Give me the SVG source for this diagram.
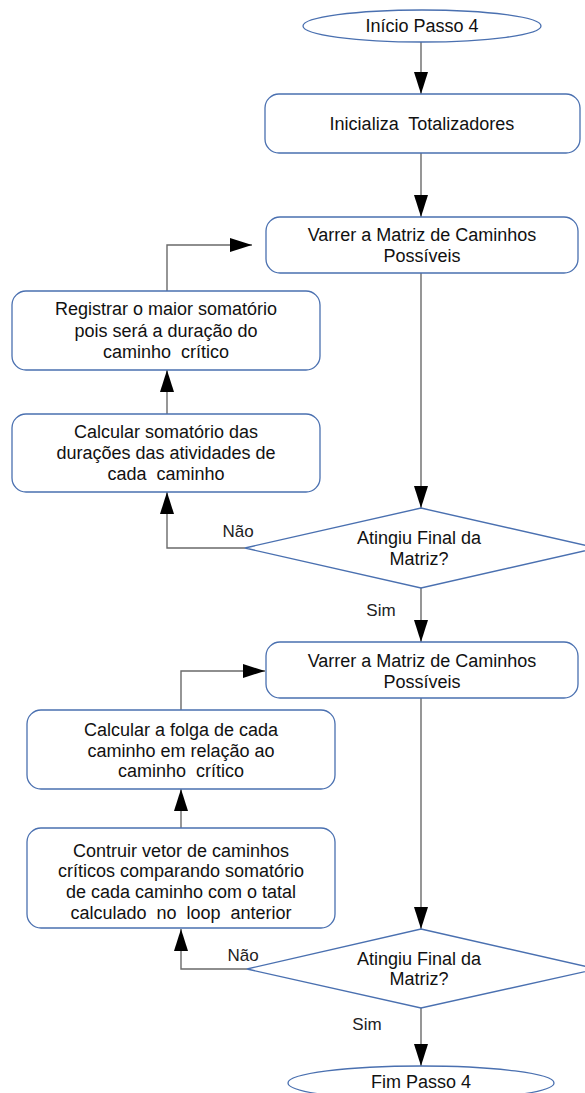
<svg xmlns="http://www.w3.org/2000/svg" width="585" height="1093" viewBox="0 0 585 1093">
<defs>
<style>
.node{fill:#fff;stroke:#4a70b0;stroke-width:1.3}
.t{font-family:"Liberation Sans",Arial,sans-serif;font-size:18px;fill:#111;text-anchor:middle;white-space:pre}
.lbl{font-family:"Liberation Sans",Arial,sans-serif;font-size:17px;fill:#222;text-anchor:middle}
.c{fill:none;stroke:#6a6a6a;stroke-width:1.4}
</style>
<marker id="ah" markerUnits="userSpaceOnUse" markerWidth="22" markerHeight="14" refX="22" refY="7" orient="auto">
<path d="M0,0 L22,7 L0,14 Z" fill="#000"/>
</marker>
</defs>
<rect width="585" height="1093" fill="#fff"/>
<g id="connectors">
<path class="c" d="M421,42 V94" marker-end="url(#ah)"/>
<path class="c" d="M421,153 V217" marker-end="url(#ah)"/>
<path class="c" d="M421,273 V508" marker-end="url(#ah)"/>
<path class="c" d="M245,548 H167 V492" marker-end="url(#ah)"/>
<path class="c" d="M167,414 V370" marker-end="url(#ah)"/>
<path class="c" d="M167,291 V245 H252" marker-end="url(#ah)"/>
<path class="c" d="M421,588 V642" marker-end="url(#ah)"/>
<path class="c" d="M181,710 V671 H265" marker-end="url(#ah)"/>
<path class="c" d="M181,828 V789" marker-end="url(#ah)"/>
<path class="c" d="M421,698 V929" marker-end="url(#ah)"/>
<path class="c" d="M247,969 H181 V929" marker-end="url(#ah)"/>
<path class="c" d="M421,1008 V1066" marker-end="url(#ah)"/>
<text class="lbl" x="238" y="537">Não</text>
<text class="lbl" x="381" y="616">Sim</text>
<text class="lbl" x="243" y="961">Não</text>
<text class="lbl" x="367" y="1030">Sim</text>
</g>
<g id="start">
<ellipse class="node" cx="422" cy="26" rx="119" ry="16"/>
<text class="t" x="422" y="32">Início Passo 4</text>
</g>
<g id="init">
<rect class="node" x="265" y="94" width="315" height="59" rx="14"/>
<text class="t" x="422" y="130">Inicializa  Totalizadores</text>
</g>
<g id="scan1">
<rect class="node" x="266" y="217" width="312" height="56" rx="14"/>
<text class="t" x="422" y="241">Varrer a Matriz de Caminhos</text>
<text class="t" x="422" y="262">Possíveis</text>
</g>
<g id="decision1">
<polygon class="node" points="421,508 597,548 421,588 245,548"/>
<text class="t" x="419" y="544">Atingiu Final da</text>
<text class="t" x="419" y="565">Matriz?</text>
</g>
<g id="sum">
<rect class="node" x="12" y="414" width="308" height="78" rx="14"/>
<text class="t" x="166" y="438">Calcular somatório das</text>
<text class="t" x="166" y="459">durações das atividades de</text>
<text class="t" x="166" y="480">cada  caminho</text>
</g>
<g id="register">
<rect class="node" x="12" y="291" width="308" height="79" rx="14"/>
<text class="t" x="166" y="315">Registrar o maior somatório</text>
<text class="t" x="166" y="337">pois será a duração do</text>
<text class="t" x="166" y="358">caminho  crítico</text>
</g>
<g id="scan2">
<rect class="node" x="266" y="642" width="312" height="56" rx="14"/>
<text class="t" x="422" y="667">Varrer a Matriz de Caminhos</text>
<text class="t" x="422" y="688">Possíveis</text>
</g>
<g id="slack">
<rect class="node" x="27" y="710" width="308" height="79" rx="14"/>
<text class="t" x="181" y="736">Calcular a folga de cada</text>
<text class="t" x="181" y="757">caminho em relação ao</text>
<text class="t" x="181" y="777">caminho  crítico</text>
</g>
<g id="vector">
<rect class="node" x="27" y="828" width="308" height="100" rx="14"/>
<text class="t" x="181" y="857">Contruir vetor de caminhos</text>
<text class="t" x="181" y="877">críticos comparando somatório</text>
<text class="t" x="181" y="898">de cada caminho com o tatal</text>
<text class="t" x="181" y="919">calculado  no  loop  anterior</text>
</g>
<g id="decision2">
<polygon class="node" points="421,929 597,969 421,1008 247,969"/>
<text class="t" x="419" y="965">Atingiu Final da</text>
<text class="t" x="419" y="985">Matriz?</text>
</g>
<g id="end">
<ellipse class="node" cx="421" cy="1083" rx="133" ry="17"/>
<text class="t" x="421" y="1088">Fim Passo 4</text>
</g>
</svg>
